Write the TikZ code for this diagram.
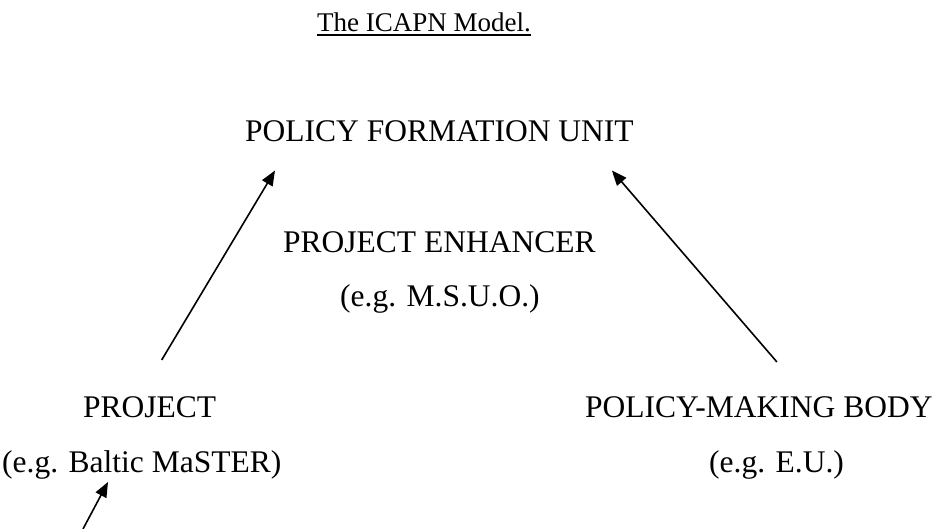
\documentclass[tikz,border=0pt]{standalone}
\usepackage{fontspec}
\setmainfont{Liberation Serif}
\usetikzlibrary{arrows.meta}
\tikzset{
  lbl/.style={inner sep=0pt, anchor=base west, font=\fontsize{31.5}{38}\selectfont},
  ttl/.style={inner sep=0pt, anchor=base west, font=\fontsize{27}{32}\selectfont},
  arr/.style={-{Triangle[length=15pt,width=12pt]}, line width=1.6pt}
}
\begin{document}
\begin{tikzpicture}[x=1pt,y=-1pt]
        \useasboundingbox (0,0) rectangle (946,529);
        \node[ttl] (title) at (317,32) {The ICAPN Model.\ };
        \draw [line width=2pt] ([yshift=-3.5pt]title.base west) -- ([yshift=-3.5pt]title.base east);
        \node[lbl] (pfu) at (245,142) {POLICY FORMATION UNIT};
        \node[lbl] (enh) at (283,253) {PROJECT ENHANCER};
        \node[lbl] (enhex) at (340,307) {(e.g. M.S.U.O.)};
        \node[lbl] (proj) at (83,418) {PROJECT};
        \node[lbl] (projex) at (2,473) {(e.g. Baltic MaSTER)};
        \node[lbl] (pmb) at (585,418) {POLICY-MAKING BODY};
        \node[lbl] (pmbex) at (709,473) {(e.g. E.U.)};
        \coordinate (feed) at (83,529);
        \draw[arr] ([xshift=12pt,yshift=37pt]proj.north) -- ([xshift=30pt,yshift=-28pt]pfu.south west);
        \draw[arr] ([xshift=18pt,yshift=35pt]pmb.north) -- ([xshift=-22pt,yshift=-28pt]pfu.south east);
        \draw[arr] (feed) -- ([xshift=106pt,yshift=-9pt]projex.base west);
\end{tikzpicture}
\end{document}
